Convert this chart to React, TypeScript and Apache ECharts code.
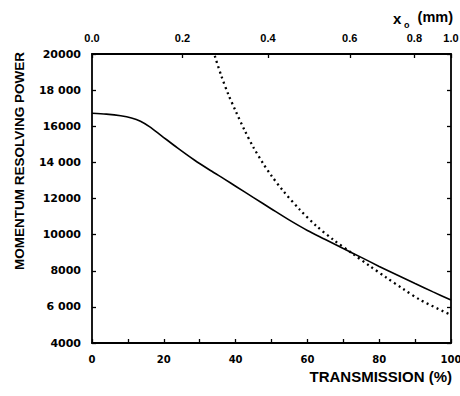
import React, { useEffect, useRef } from "react";
import * as echarts from "echarts";

// Solid curve: transmission (%) vs momentum resolving power
const solidTransmission = [0, 4, 8, 11, 13.5, 16, 19.2, 23.8, 28.5, 33, 37, 40, 45, 50, 55, 60, 65, 70, 75, 80, 85, 90, 95, 100];
const solidPower = [16720, 16670, 16580, 16460, 16280, 15980, 15500, 14800, 14130, 13550, 13060, 12680, 12050, 11420, 10800, 10230, 9730, 9230, 8740, 8240, 7760, 7290, 6830, 6380];

// Dotted curve
const dottedTransmission = [34.2, 36, 38, 40, 42.5, 45, 47.6, 50, 53.2, 57.9, 62.5, 67.2, 72.7, 77.4, 82, 86.7, 91.4, 100];
const dottedPower = [19900, 18800, 17750, 16850, 15780, 14820, 13960, 13260, 12430, 11380, 10480, 9720, 8930, 8260, 7620, 6990, 6390, 5550];

// Left axis tick labels (4000..20000 step 2000)
const yTickLabels = ["4000", "6 000", "8000", "10000", "12000", "14 000", "16000", "18 000", "20000"];

// Top axis: x0 (mm), positioned on the transmission scale
const topTickPositions = [0, 25.2, 49, 71.8, 89.8, 100];
const topTickLabels = ["0.0", "0.2", "0.4", "0.6", "0.8", "1.0"];

const BLACK = "#000";

export default function App() {
  const ref = useRef<HTMLDivElement>(null);

  useEffect(() => {
    if (!ref.current) return;
    const chart = echarts.init(ref.current, undefined, { renderer: "svg" });

    const axisLine = { show: true, onZero: false, lineStyle: { color: BLACK, width: 1.8 } };
    const tick = { show: true, inside: true, length: 4, lineStyle: { color: BLACK, width: 1.3 } };

    const option: any = {
      animation: false,
      backgroundColor: "#fff",
      grid: { left: 92, right: 9, top: 54, bottom: 53, outerBoundsMode: "none" },
      xAxis: [
        {
          type: "value",
          position: "bottom",
          min: 0,
          max: 100,
          interval: 20,
          axisLine,
          axisTick: tick,
          minorTick: { show: true, splitNumber: 2, length: 4, lineStyle: { color: BLACK, width: 1.3 } },
          splitLine: { show: false },
          minorSplitLine: { show: false },
          axisLabel: {
            margin: 11,
            color: BLACK,
            fontFamily: "DejaVu Sans",
            fontWeight: "bold",
            fontSize: 10,
          },
        },
        {
          type: "value",
          position: "top",
          min: 0,
          max: 100,
          axisLine,
          axisTick: { ...tick, customValues: topTickPositions },
          splitLine: { show: false },
          axisLabel: {
            customValues: topTickPositions,
            margin: 11,
            color: BLACK,
            fontFamily: "Liberation Sans",
            fontWeight: "bold",
            fontSize: 11,
            formatter: (v: number) => {
              const i = topTickPositions.findIndex((p) => Math.abs(p - v) < 1e-6);
              return i >= 0 ? topTickLabels[i] : "";
            },
          },
        },
      ],
      yAxis: [
        {
          type: "value",
          position: "left",
          min: 4000,
          max: 20000,
          interval: 2000,
          axisLine,
          axisTick: tick,
          splitLine: { show: false },
          axisLabel: {
            margin: 11,
            color: BLACK,
            fontFamily: "DejaVu Sans",
            fontWeight: "bold",
            fontSize: 11,
            formatter: (v: number) => yTickLabels[Math.round((v - 4000) / 2000)] ?? "",
          },
        },
        {
          type: "value",
          position: "right",
          min: 4000,
          max: 20000,
          interval: 2000,
          axisLine,
          axisTick: tick,
          splitLine: { show: false },
          axisLabel: { show: false },
        },
      ],
      series: [
        {
          type: "line",
          xAxisIndex: 0,
          yAxisIndex: 0,
          data: solidTransmission.map((t, i) => [t, solidPower[i]]),
          showSymbol: false,
          smooth: 0.3,
          lineStyle: { color: BLACK, width: 1.6 },
        },
        {
          type: "line",
          xAxisIndex: 0,
          yAxisIndex: 0,
          data: dottedTransmission.map((t, i) => [t, dottedPower[i]]),
          showSymbol: false,
          smooth: 0.3,
          lineStyle: { color: BLACK, width: 2.3, type: [2, 3.5] },
        },
      ],
      graphic: [
        {
          type: "text",
          x: 19,
          y: 161,
          rotation: Math.PI / 2,
          style: {
            text: "MOMENTUM RESOLVING POWER",
            fill: BLACK,
            font: "bold 13.5px 'Liberation Sans'",
            align: "center",
            verticalAlign: "middle",
          },
        },
        {
          type: "text",
          x: 452,
          y: 376,
          style: {
            text: "TRANSMISSION (%)",
            fill: BLACK,
            font: "bold 15px 'Liberation Sans'",
            align: "right",
            verticalAlign: "middle",
          },
        },
        {
          type: "text",
          x: 393,
          y: 18,
          style: {
            text: "x",
            fill: BLACK,
            font: "bold 15px 'Liberation Sans'",
            align: "left",
            verticalAlign: "middle",
          },
        },
        {
          type: "text",
          x: 404,
          y: 25,
          style: {
            text: "o",
            fill: BLACK,
            font: "bold 9px 'Liberation Sans'",
            align: "left",
            verticalAlign: "middle",
          },
        },
        {
          type: "text",
          x: 453,
          y: 17,
          style: {
            text: "(mm)",
            fill: BLACK,
            font: "bold 14.5px 'Liberation Sans'",
            align: "right",
            verticalAlign: "middle",
          },
        },
      ],
    };

    chart.setOption(option);
    return () => chart.dispose();
  }, []);

  return (
    <div
      ref={ref}
      style={{ position: "fixed", left: 0, top: 0, width: 460, height: 396, background: "#fff" }}
    />
  );
}
